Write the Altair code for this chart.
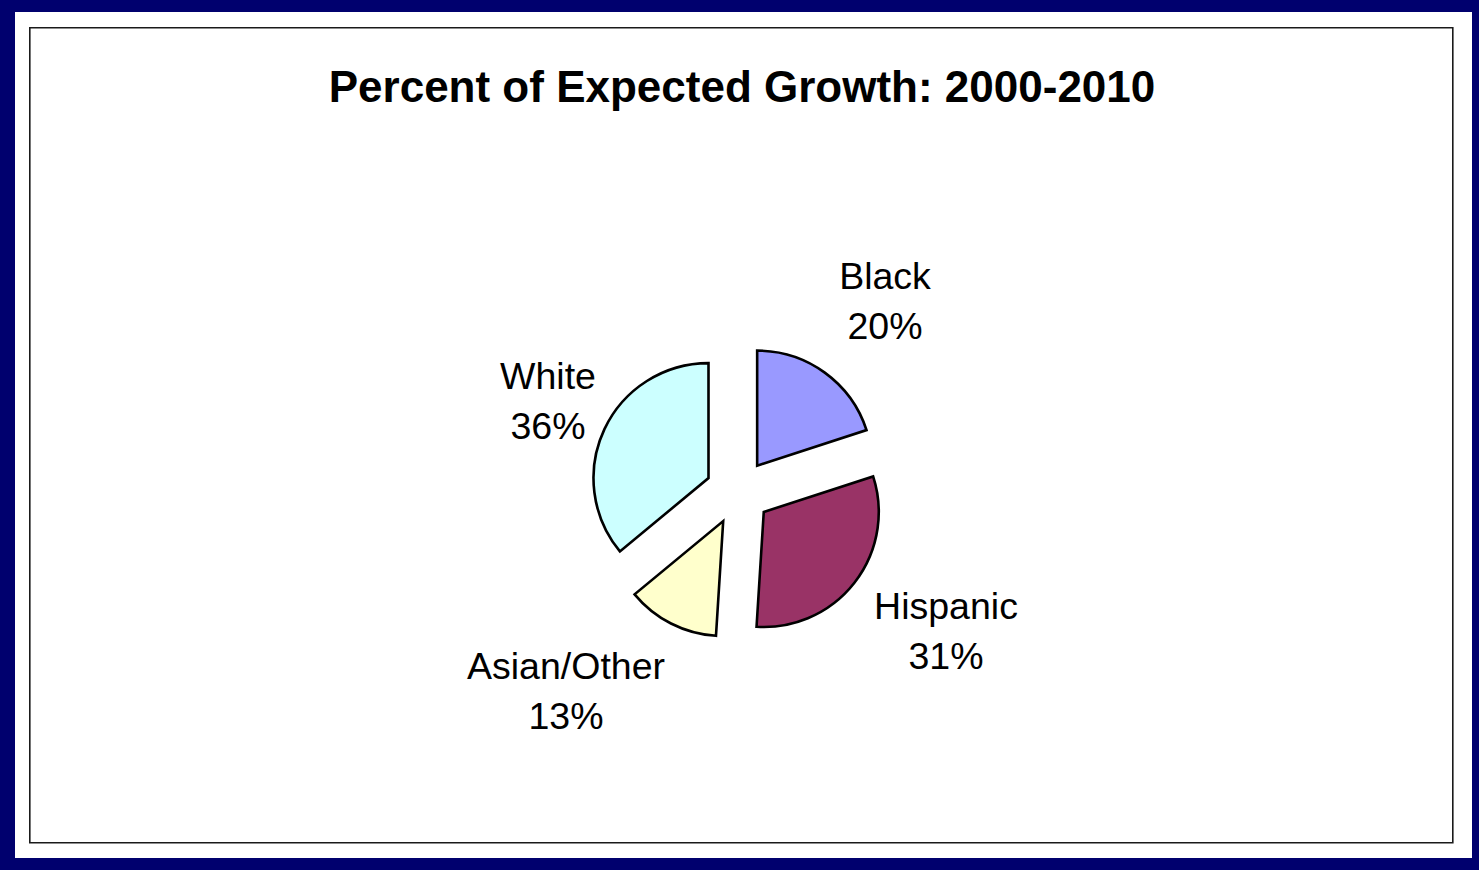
import math
import altair as alt
import pandas as pd

# ---- data ----
categories = ["Black", "Hispanic", "Asian/Other", "White"]
percents = [20, 31, 13, 36]
colors = ["#9999FF", "#993366", "#FFFFCC", "#CCFFFF"]
title_text = "Percent of Expected Growth: 2000-2010"

# ---- layout (pixels) ----
W, H = 1479, 870
CX, CY = 738, 492          # pie centre
R = 115                    # pie radius
EXPLODE = 32.6             # explosion distance
label_x = [885, 946, 566, 548]
label_y = [289, 619, 679, 389]
FONT = "Liberation Sans"

df = pd.DataFrame({"cat": categories, "pct": percents, "order": list(range(len(categories)))})

slices = (
    alt.Chart(df)
    .transform_window(cum="sum(pct)", sort=[alt.SortField("order")], frame=[None, 0])
    .transform_calculate(start="datum.cum - datum.pct")
    .transform_calculate(mid="(datum.cum - datum.pct / 2) / 100 * 2 * PI")
    .transform_calculate(px=f"{CX} + {EXPLODE} * sin(datum.mid)")
    .transform_calculate(py=f"{CY} - {EXPLODE} * cos(datum.mid)")
    .mark_arc(radius=R, stroke="black", strokeWidth=2.6, strokeJoin="miter")
    .encode(
        theta=alt.Theta("start:Q", stack=None,
                        scale=alt.Scale(domain=[0, 100], range=[0, 2 * math.pi])),
        theta2="cum:Q",
        x=alt.X("px:Q", scale=None, axis=None),
        y=alt.Y("py:Q", scale=None, axis=None),
        color=alt.Color("cat:N", scale=alt.Scale(domain=categories, range=colors), legend=None),
    )
)

lab_df = pd.DataFrame({"cat": categories, "pct": percents, "lx": label_x, "ly": label_y})
labels = (
    alt.Chart(lab_df)
    .transform_calculate(txt="datum.cat + '\\n' + datum.pct + '%'")
    .mark_text(font=FONT, fontSize=37.5, color="black", align="center",
               baseline="alphabetic", lineBreak="\n", lineHeight=50)
    .encode(
        text="txt:N",
        x=alt.X("lx:Q", scale=None, axis=None),
        y=alt.Y("ly:Q", scale=None, axis=None),
    )
)

one = alt.Data(values=[{"t": title_text}])

white_panel = alt.Chart(one).mark_rect(fill="white", stroke=None).encode(
    x=alt.value(15), x2=alt.value(1472), y=alt.value(12), y2=alt.value(858)
)
inner_frame = alt.Chart(one).mark_rect(fill=None, stroke="#1a1a1a", strokeWidth=1.6).encode(
    x=alt.value(29.8), x2=alt.value(1452.8), y=alt.value(27.8), y2=alt.value(842.8)
)
title = alt.Chart(one).mark_text(
    font=FONT, fontSize=44, fontWeight="bold", color="black", align="center", baseline="alphabetic"
).encode(text="t:N", x=alt.value(742), y=alt.value(102))

chart = (
    alt.layer(white_panel, inner_frame, title, slices, labels)
    .properties(width=W, height=H, padding=0, autosize="none", background="#00006E")
    .configure_view(strokeWidth=0)
)

chart.save("out.html", embed_options={"renderer": "svg", "actions": False})
